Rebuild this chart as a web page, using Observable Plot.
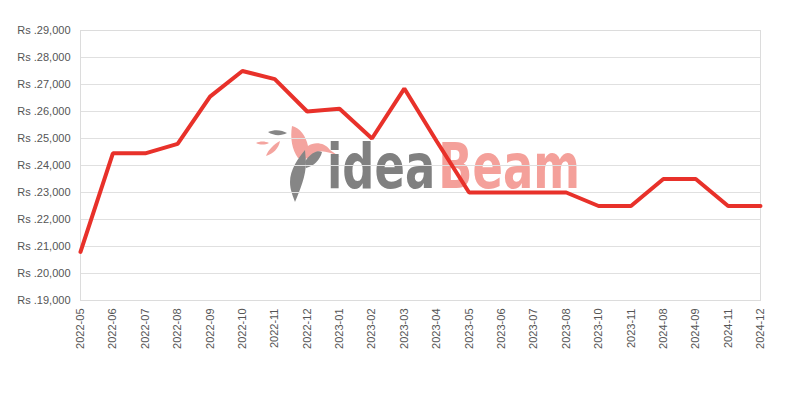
<!DOCTYPE html>
<html>
<head>
<meta charset="utf-8">
<script src="https://cdn.jsdelivr.net/npm/d3@7"></script>
<script src="https://cdn.jsdelivr.net/npm/@observablehq/plot@0.6"></script>
<style>
  body { margin: 0; background: #fff; }
  #wrap { position: relative; width: 800px; height: 400px; }
  #wm { position: absolute; left: 0; top: 0; width: 800px; height: 400px; pointer-events: none; }
  #chart { position: absolute; left: 0; top: 0; }
  #chart svg { background: transparent; }
</style>
</head>
<body>
<div id="wrap">
  <div id="wm"></div>
  <div id="chart"></div>
</div>
<script>
const months = ["2022-05","2022-06","2022-07","2022-08","2022-09","2022-10","2022-11","2022-12","2023-01","2023-02","2023-03","2023-04","2023-05","2023-06","2023-07","2023-08","2023-10","2023-11","2024-08","2024-09","2024-11","2024-12"];
const prices = [20799,24450,24450,24799,26550,27499,27199,25999,26099,24999,26850,24900,22999,22999,22999,22999,22499,22499,23499,23499,22499,22499];
const yTicks = [19000,20000,21000,22000,23000,24000,25000,26000,27000,28000,29000];
const watermarkParts = ["idea", "Beam"];

const data = months.map((m, i) => ({month: m, price: prices[i]}));
const fmt = d3.format(",");

// watermark (logo) behind the chart
const wm = document.getElementById("wm");
wm.innerHTML = `
<svg width="800" height="400" xmlns="http://www.w3.org/2000/svg">
  <g opacity="0.95">
    <path d="M292,126 C300,128 306,136 308,146 C314,142 324,142 330,150 L340,157 C330,152 322,150 316,152 C312,158 306,160 298,158 C292,150 290,138 292,126 Z" fill="#f4a09a"/>
    <path d="M268,132 C275,129 282,130 287,133 C281,136 274,136 268,132 Z" fill="#808080"/>
    <path d="M256,143 C260,141 265,141 269,143 C265,145 260,145 256,143 Z" fill="#f4a09a"/>
    <path d="M266,156 C268,150 274,144 280,141 C279,148 273,154 266,156 Z" fill="#f4a09a"/>
    <path d="M305,150 C298,158 290,170 290,182 C290,190 293,196 295,202 C300,190 306,176 306,162 Z" fill="#808080"/>
    <path d="M306,160 C312,152 318,150 322,152 C320,160 314,166 306,168 Z" fill="#808080"/>
  </g>
  <g id="wmtext">
    <text id="wm1" x="0" y="0" font-family="DejaVu Sans Condensed, DejaVu Sans" font-weight="bold" font-size="62" fill="#808080">${watermarkParts[0]}</text>
    <text id="wm2" x="0" y="0" font-family="DejaVu Sans Condensed, DejaVu Sans" font-weight="bold" font-size="62" fill="#f4a09a">${watermarkParts[1]}</text>
  </g>
</svg>`;
{
  const t1 = document.getElementById("wm1"), t2 = document.getElementById("wm2");
  const w1 = t1.getComputedTextLength(), w2 = t2.getComputedTextLength();
  const gap = 4;
  t2.setAttribute("x", w1 + gap);
  const sx = 253 / (w1 + gap + w2);
  document.getElementById("wmtext").setAttribute("transform", `translate(327,188) scale(${sx},1)`);
}

const chart = Plot.plot({
  width: 800,
  height: 400,
  marginLeft: 80,
  marginRight: 40,
  marginTop: 30,
  marginBottom: 100,
  style: {fontFamily: "Liberation Sans, Arial, sans-serif", fontSize: "11px", color: "#555", background: "transparent"},
  x: {type: "point", domain: months, padding: 0, round: false, label: null},
  y: {domain: [19000, 29000], label: null},
  marks: [
    Plot.gridY(yTicks, {stroke: "#e0e0e0", strokeOpacity: 1}),
    Plot.frame({stroke: "#dcdcdc"}),
    Plot.axisY(yTicks, {tickSize: 0, tickPadding: 10, tickFormat: d => "Rs ." + fmt(d), fill: "#555", fontSize: 11}),
    Plot.axisX({tickSize: 0, tickPadding: 8, tickRotate: -90, fill: "#555", fontSize: 11}),
    Plot.line(data, {x: "month", y: "price", stroke: "#e8312a", strokeWidth: 4, strokeLinejoin: "miter"})
  ]
});
document.getElementById("chart").appendChild(chart);
</script>
</body>
</html>
